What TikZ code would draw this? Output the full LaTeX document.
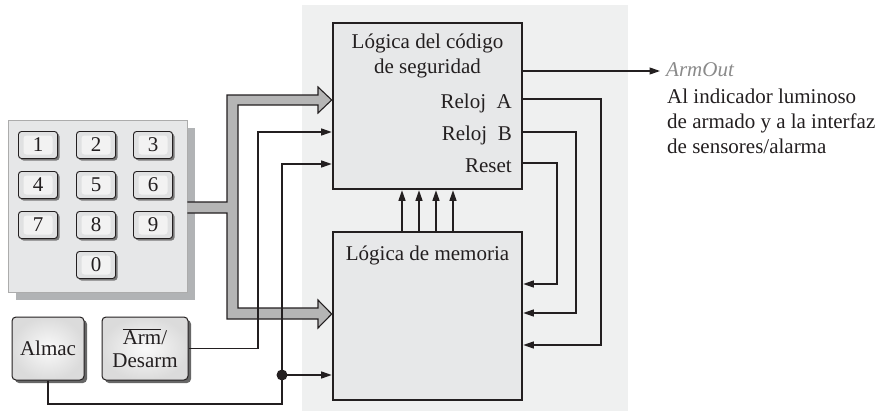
\documentclass[tikz,border=0pt]{standalone}
\usepackage{fontspec}
\setmainfont{Liberation Serif}
\usetikzlibrary{arrows.meta,shadows}
\definecolor{panelbg}{HTML}{EFF0F0}
\definecolor{boxfill}{HTML}{E7E8E9}
\definecolor{ink}{HTML}{231F20}
\definecolor{padfill}{HTML}{E6E7E8}
\definecolor{padshadow}{HTML}{B1B3B5}
\definecolor{busfill}{HTML}{B5B5B5}
\definecolor{keyfill}{HTML}{E0E1E2}
\definecolor{keyin}{HTML}{F2F2F2}
\definecolor{aogray}{HTML}{8A8A8A}
\begin{document}
\begin{tikzpicture}[x=1pt,y=-1pt,font=\fontsize{21}{25}\selectfont,
  logic/.style={draw=ink,line width=2.6pt,fill=boxfill,inner sep=0pt,minimum width=189pt},
  txt/.style={inner sep=0pt,text=ink},
  wire/.style={draw=ink,line width=1.2pt},
  arr/.style={wire,-{Triangle[length=10.5pt,width=7pt]}},
  keybox/.style={draw=ink,line width=0.9pt,rounded corners=3pt,fill=keyfill,inner sep=0pt,
    minimum width=39pt,minimum height=27pt,text=ink,
    drop shadow={shadow xshift=2pt,shadow yshift=-2pt,fill=black!60,opacity=0.85},
    path picture={\fill[keyin] ([shift={(5pt,-4pt)}]path picture bounding box.north west) rectangle ([shift={(-5pt,4pt)}]path picture bounding box.south east);}},
  button/.style={draw=ink,line width=1pt,rounded corners=4pt,inner sep=0pt,
    inner color=gray!4,outer color=gray!28,text=ink,align=center,
    minimum height=63pt,
    drop shadow={shadow xshift=3pt,shadow yshift=-3pt,fill=black!70,opacity=0.85}}
]
\useasboundingbox (0,0) rectangle (879,415);
% background panel
\fill[panelbg] (302,5) rectangle (628,411);
% logic boxes
\node[logic,minimum height=166pt] (code) at (427.5,106) {};
\node[logic,minimum height=168pt] (mem) at (427.5,316) {};
\node[txt,anchor=base] (codet1) at (427.5,48) {Lógica del código};
\node[txt,anchor=base] (codet2) at (427.5,73) {de seguridad};
\node[txt,anchor=base east] (rA) at (512,108) {Reloj\ \ A};
\node[txt,anchor=base east] (rB) at (512,140) {Reloj\ \ B};
\node[txt,anchor=base east] (rS) at (512,172) {Reset};
\node[txt,anchor=base] (memt) at (427.5,260) {Lógica de memoria};
% keypad
\node[draw=gray!65,line width=0.8pt,fill=padfill,inner sep=0pt,minimum width=179pt,minimum height=172pt,
  drop shadow={shadow xshift=8pt,shadow yshift=-8pt,fill=padshadow,opacity=1}] (keypad) at (97.5,206) {};
\node[keybox] (k1) at (38,145) {1};
\node[keybox] (k2) at (96,145) {2};
\node[keybox] (k3) at (153,145) {3};
\node[keybox] (k4) at (38,185) {4};
\node[keybox] (k5) at (96,185) {5};
\node[keybox] (k6) at (153,185) {6};
\node[keybox] (k7) at (38,225) {7};
\node[keybox] (k8) at (96,225) {8};
\node[keybox] (k9) at (153,225) {9};
\node[keybox] (k0) at (96,265) {0};
% buttons
\node[button,minimum width=72pt] (almac) at (48,348.5) {Almac};
\node[button,minimum width=86pt] (arm) at (145,348.5) {$\overline{\mbox{Arm}}$/\\[-2pt]Desarm};
% bus
\fill[busfill] (keypad.east |- 0,202) -- (227,202) -- (227,95) -- (318,95) -- (318,87) -- (code.west |- 0,100)
  -- (318,113) -- (318,105) -- (238,105) -- (238,308) -- (318,308) -- (318,300) -- (mem.west |- 0,314)
  -- (318,328) -- (318,319) -- (227,319) -- (227,213) -- (keypad.east |- 0,213) -- cycle;
\draw[draw=ink,line width=1.1pt,line join=miter] (keypad.east |- 0,202) -- (227,202) -- (227,95) -- (318,95) -- (318,87) -- (code.west |- 0,100)
  -- (318,113) -- (318,105) -- (238,105) -- (238,308) -- (318,308) -- (318,300) -- (mem.west |- 0,314)
  -- (318,328) -- (318,319) -- (227,319) -- (227,213) -- (keypad.east |- 0,213);
% Arm/Desarm line
\coordinate (ca1) at (258,348.5);
\coordinate (ca2) at (258,132);
\draw[arr] (arm.east) -- (ca1) -- (ca2) -- (code.west |- ca2);
% Almac line
\coordinate (cl1) at (282,404);
\coordinate (cl2) at (282,164);
\coordinate (jn) at (282,375);
\draw[arr] (almac.south) |- (cl1) -- (cl2) -- (code.west |- cl2);
\fill[ink] (jn) circle[radius=5.5pt];
\draw[arr] (jn) -- (mem.west |- jn);
% vertical arrows
\foreach \dx in {-25.5,-8.5,8.5,25.5}
  \draw[arr] ([xshift=\dx pt]mem.north) -- ([xshift=\dx pt]code.south);
% feedback lines
\coordinate (cA1) at (601,99);  \coordinate (cA2) at (601,345);
\coordinate (cB1) at (576,132); \coordinate (cB2) at (576,313);
\coordinate (cS1) at (557,163); \coordinate (cS2) at (557,284);
\draw[arr] (code.east |- cA1) -- (cA1) -- (cA2) -- (mem.east |- cA2);
\draw[arr] (code.east |- cB1) -- (cB1) -- (cB2) -- (mem.east |- cB2);
\draw[arr] (code.east |- cS1) -- (cS1) -- (cS2) -- (mem.east |- cS2);
% ArmOut
\coordinate (aotip) at (660,71);
\draw[arr] (code.east |- aotip) -- (aotip);
\node[txt,anchor=base west,text=aogray,font=\fontsize{21}{25}\selectfont\itshape] (ao) at (666,76) {ArmOut};
\node[txt,anchor=base west] (d1) at (667,103) {Al indicador luminoso};
\node[txt,anchor=base west] (d2) at (667,128) {de armado y a la interfaz};
\node[txt,anchor=base west] (d3) at (667,153) {de sensores/alarma};
\end{tikzpicture}
\end{document}
